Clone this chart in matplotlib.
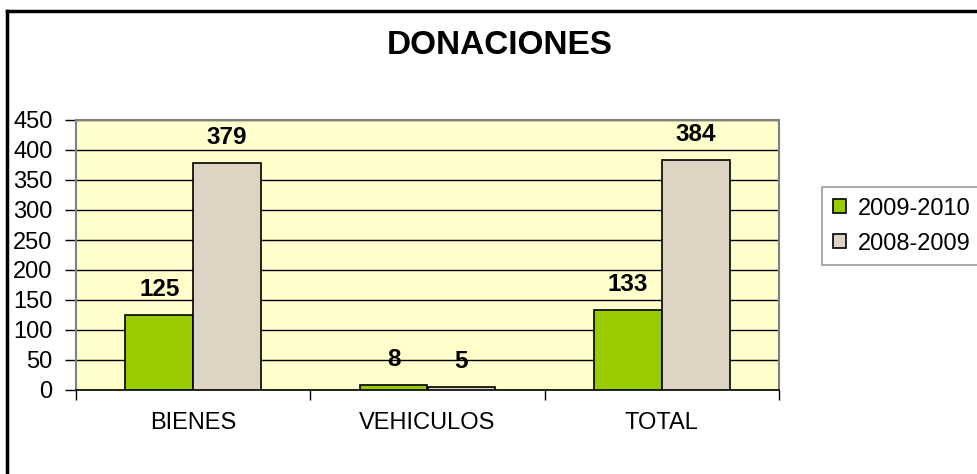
import matplotlib
matplotlib.use("Agg")
import matplotlib.pyplot as plt
from matplotlib.lines import Line2D
import numpy as np

categories = ["BIENES", "VEHICULOS", "TOTAL"]
series_names = ["2009-2010", "2008-2009"]
values_2009_2010 = [125, 8, 133]
values_2008_2009 = [379, 5, 384]
y_ticks = [0, 50, 100, 150, 200, 250, 300, 350, 400, 450]

plt.rcParams['font.family'] = ['Liberation Sans', 'DejaVu Sans']

fig = plt.figure(figsize=(9.77, 4.74), dpi=100)
ax = fig.add_axes([76/977, 1 - 390/474, (779 - 76)/977, (390 - 120)/474])
ax.set_facecolor('#FFFFCC')

x = np.arange(len(categories))
w = 0.29
b1 = ax.bar(x - w/2, values_2009_2010, width=w, color='#99CC00', edgecolor='black',
            linewidth=1.2, label=series_names[0], zorder=3)
b2 = ax.bar(x + w/2, values_2008_2009, width=w, color='#DDD4C4', edgecolor='black',
            linewidth=1.2, label=series_names[1], zorder=3)

for bars, vals in ((b1, values_2009_2010), (b2, values_2008_2009)):
    for rect, v in zip(bars, vals):
        ax.annotate(str(v), (rect.get_x() + rect.get_width()/2, v),
                    xytext=(0, 10), textcoords='offset points',
                    ha='center', va='bottom', fontsize=17.5, fontweight='bold')

ax.set_ylim(0, 450)
ax.set_xlim(-0.5, 2.5)
ax.set_yticks(y_ticks)
ax.set_yticklabels([str(t) for t in y_ticks], fontsize=17)
ax.tick_params(axis='y', length=8, width=1, color='black', pad=9)
ax.set_xticks(x)
ax.set_xticklabels(categories, fontsize=17)
ax.tick_params(axis='x', which='major', length=0, pad=16)
ax.set_xticks([-0.5, 0.5, 1.5, 2.5], minor=True)
ax.tick_params(axis='x', which='minor', length=7, width=1, color='black')

ax.yaxis.grid(True, color='black', linewidth=1, zorder=1)
ax.set_axisbelow(True)
for s in ('top', 'right', 'left'):
    ax.spines[s].set_color('#808080')
    ax.spines[s].set_linewidth(1.5)
ax.spines['bottom'].set_color('black')
ax.spines['bottom'].set_linewidth(1.2)

fig.text(500/977, 1 - 46/474, "DONACIONES", ha='center', va='center',
         fontsize=24, fontweight='bold')

leg = fig.legend(handles=[b1, b2], labels=series_names, loc='upper left',
                 bbox_to_anchor=(822/977, 1 - 187/474), fontsize=17,
                 frameon=True, fancybox=False, handlelength=0.55, handleheight=0.55,
                 handletextpad=0.5, borderpad=0.45, labelspacing=0.55, borderaxespad=0)
leg.get_frame().set_edgecolor('#808080')
leg.get_frame().set_linewidth(1.2)

# outer chart border (top and left)
fig.add_artist(Line2D([7/977, 7/977], [0, 1 - 11/474], transform=fig.transFigure,
                      color='black', linewidth=2.5))
fig.add_artist(Line2D([7/977, 1], [1 - 11/474, 1 - 11/474], transform=fig.transFigure,
                      color='black', linewidth=2.5))

fig.savefig("out.png", dpi=100)
